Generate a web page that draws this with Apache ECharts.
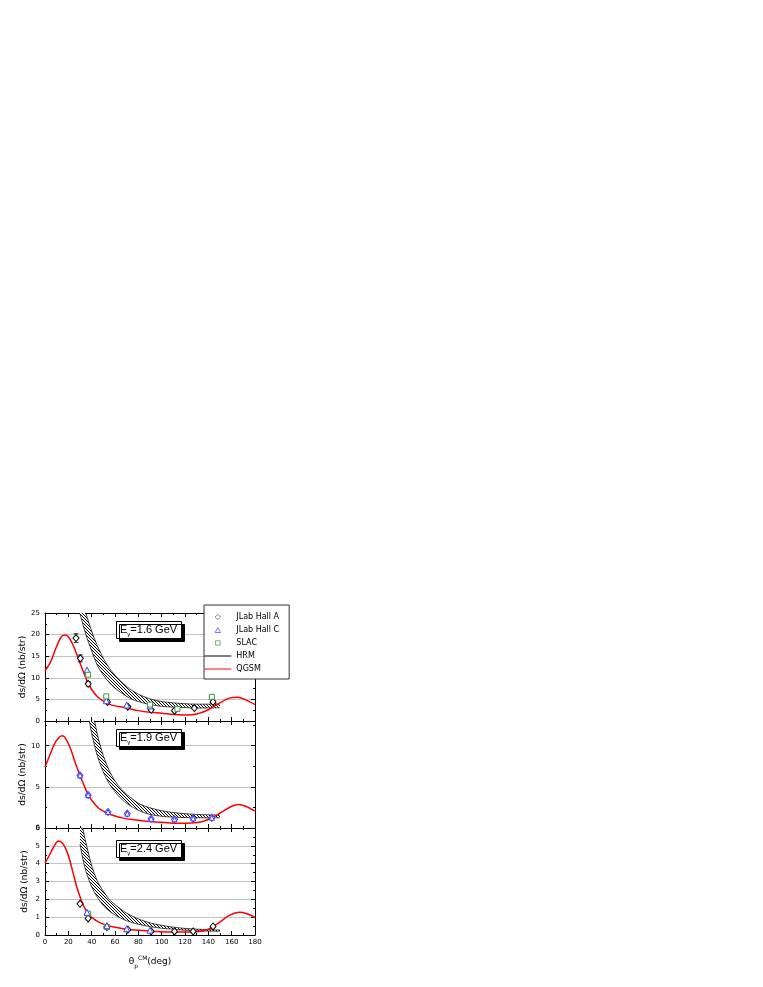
<!DOCTYPE html>
<html>
<head>
<meta charset="utf-8">
<script src="https://cdn.jsdelivr.net/npm/echarts@6/dist/echarts.min.js"></script>
<style>
html, body { margin: 0; padding: 0; background: #fff; }
#main { width: 763px; height: 987px; }
</style>
</head>
<body>
<div id="main"></div>
<script>
// ---------- data ----------
// QGSM curves
const qgsmX16 = [0, 5, 10, 14, 17, 20, 24, 28, 32, 36, 40, 45, 50, 55, 60, 70, 80, 90, 100, 110, 120, 130, 140, 150, 158, 165, 172, 180];
const qgsmY16 = [11.6, 13.8, 17.3, 19.5, 19.9, 19.5, 17.6, 14.9, 12.0, 9.3, 7.3, 5.6, 4.6, 3.9, 3.5, 3.0, 2.4, 2.0, 1.8, 1.5, 1.4, 1.6, 2.6, 4.2, 5.3, 5.5, 4.9, 3.8];
const qgsmX19 = [0, 4, 8, 12, 15, 18, 22, 26, 30, 34, 38, 42, 46, 50, 55, 60, 67, 75, 85, 95, 105, 115, 125, 135, 145, 152, 160, 166, 172, 180];
const qgsmY19 = [7.4, 8.8, 10.2, 11.0, 11.2, 10.8, 9.6, 7.9, 6.4, 5.0, 3.8, 3.0, 2.4, 2.05, 1.7, 1.45, 1.2, 1.02, 0.85, 0.73, 0.64, 0.57, 0.6, 0.8, 1.4, 2.0, 2.65, 2.87, 2.65, 2.05];
const qgsmX24 = [0, 4, 8, 11.4, 15, 18, 21, 24, 27, 30, 33, 37, 41, 46, 53, 60, 67, 80, 95, 110, 125, 135, 142, 150, 158, 167, 173, 180];
const qgsmY24 = [4.03, 4.5, 5.0, 5.27, 5.15, 4.8, 4.25, 3.5, 2.75, 2.15, 1.65, 1.2, 0.95, 0.72, 0.54, 0.43, 0.35, 0.26, 0.2, 0.17, 0.17, 0.23, 0.38, 0.73, 1.1, 1.27, 1.19, 0.99];

// HRM bands (lower / upper edge)
const hrmX16 = [30, 35, 40, 45, 50, 55, 60, 65, 70, 75, 80, 90, 100, 110, 120, 130, 140, 150];
const hrmLo16 = [24.8, 20.0, 16.2, 12.8, 10.6, 8.9, 7.6, 6.6, 5.7, 5.0, 4.5, 3.8, 3.4, 3.2, 3.1, 3.0, 3.0, 3.1];
const hrmHi16 = [30, 25, 20.8, 17.3, 14.5, 12.3, 10.6, 9.2, 8.0, 7.0, 6.2, 5.1, 4.5, 4.2, 4.0, 3.9, 3.9, 4.0];
const hrmX19 = [37, 40, 45, 50, 55, 60, 65, 70, 80, 90, 100, 110, 120, 130, 140, 150];
const hrmLo19 = [13.8, 11.5, 8.7, 6.8, 5.4, 4.4, 3.6, 3.0, 2.15, 1.65, 1.42, 1.32, 1.27, 1.25, 1.24, 1.25];
const hrmHi19 = [17.5, 15, 11.3, 8.8, 7.0, 5.7, 4.8, 4.1, 3.0, 2.45, 2.1, 1.88, 1.74, 1.65, 1.6, 1.57];
const hrmX24 = [30, 32, 35, 40, 45, 50, 55, 60, 65, 70, 80, 90, 100, 110, 120, 130, 140, 150];
const hrmLo24 = [5.1, 4.4, 3.6, 2.7, 2.1, 1.65, 1.35, 1.12, 0.95, 0.8, 0.6, 0.47, 0.38, 0.32, 0.27, 0.24, 0.22, 0.21];
const hrmHi24 = [7.0, 6.1, 5.2, 3.9, 3.0, 2.45, 2.0, 1.7, 1.45, 1.22, 0.9, 0.68, 0.54, 0.44, 0.37, 0.33, 0.3, 0.28];

// measurements
const hallAX16 = [26.6, 30.3, 37, 53.5, 71, 91, 111, 128, 144];
const hallAY16 = [19.2, 14.5, 8.6, 4.4, 3.3, 2.6, 2.4, 3.0, 4.4];
const hallAErr16 = [1.0, 0.8, 0.5, 0.3, 0.2, 0.2, 0.2, 0.2, 0.3];
const hallCX16 = [36, 52.5, 70, 90];
const hallCY16 = [11.8, 4.7, 3.7, 3.5];
const slacX16 = [37, 52.5, 90, 113.5, 143];
const slacY16 = [10.7, 5.7, 3.8, 2.8, 5.6];

const hallX19 = [30, 37, 54, 70.5, 91, 111, 127, 143];
const hallY19 = [6.4, 4.0, 1.95, 1.75, 1.12, 1.05, 1.17, 1.25];

const hallAX24 = [30, 37, 53, 71, 91, 111, 127, 144];
const hallAY24 = [1.75, 0.93, 0.45, 0.3, 0.2, 0.2, 0.2, 0.48];
const hallCX24 = [36, 53, 70, 90];
const hallCY24 = [1.27, 0.52, 0.35, 0.27];
const slacX24 = [37, 53];
const slacY24 = [1.2, 0.45];

// axes
const xTicks = [0, 180, 20];
const yRange16 = [0, 25, 5];
const yRange19 = [0, 13, 5];
const yRange24 = [0, 6, 1];
const energies = ['1.6', '1.9', '2.4'];

// ---------- chart ----------
const chart = echarts.init(document.getElementById('main'));

const BLUE = '#3c3cff';
const GREEN = '#3a9a3a';
const RED = '#ff0000';
const FONT = 'DejaVu Sans';

// legend icons: a 27x6 box (the two moveTo points fix the box), mark in the middle
const ICON_BOX = 'path://M0,0 M27,6 ';
const iconDiamond = ICON_BOX + 'M13.5,0.3 L16.2,3 L13.5,5.7 L10.8,3 Z';
const iconTriangle = ICON_BOX + 'M13.5,0.5 L16.2,5.5 L10.8,5.5 Z';
const iconSquare = ICON_BOX + 'M11.2,0.8 L15.8,0.8 L15.8,5.2 L11.2,5.2 Z';
const iconLine = ICON_BOX + 'M0,2.5 L27,2.5 L27,3.5 L0,3.5 Z';

// hatch pattern for the HRM band
const hatch = document.createElement('canvas');
hatch.width = 3;
hatch.height = 3;
(function () {
	const c = hatch.getContext('2d');
	c.fillStyle = '#fff';
	c.fillRect(0, 0, 3, 3);
	c.strokeStyle = '#000';
	c.lineWidth = 1;
	c.beginPath();
	c.moveTo(0, 0); c.lineTo(3, 3);
	c.moveTo(-1, 2); c.lineTo(1, 4);
	c.moveTo(2, -1); c.lineTo(4, 1);
	c.stroke();
})();

function zip(xs, ys) {
	return xs.map(function (x, i) { return [x, ys[i]]; });
}

const gridTops = [613, 721, 828];
const gridHeights = [108, 107, 107];
const yRanges = [yRange16, yRange19, yRange24];

function makeAxes() {
	let xAxis = [], yAxis = [];
	for (let i = 0; i < 3; i++) {
		let common = {
			gridIndex: i,
			type: 'value',
			min: xTicks[0],
			max: xTicks[1],
			interval: xTicks[2],
			axisLine: { onZero: false, lineStyle: { color: '#000', width: 1 } },
			axisTick: { inside: true, length: 4, lineStyle: { color: '#000' } },
			minorTick: { show: true, splitNumber: 2, length: 2, lineStyle: { color: '#000' } },
			splitLine: { show: false }
		};
		xAxis.push(Object.assign({}, common, {
			position: 'bottom',
			axisLabel: { show: i === 2, fontSize: 7, color: '#000', margin: 4, fontFamily: FONT },
			name: i === 2 ? '{t|θ}{sub|p}{sup|CM}{t|(deg)}' : '',
			nameLocation: 'middle',
			nameGap: 20,
			nameTextStyle: {
				color: '#000',
				rich: {
					t: { fontSize: 9, fontFamily: FONT, color: '#000', lineHeight: 14 },
					sub: { fontSize: 6, fontFamily: FONT, color: '#000', verticalAlign: 'bottom' },
					sup: { fontSize: 6, fontFamily: FONT, color: '#000', verticalAlign: 'top' }
				}
			}
		}));
		xAxis.push(Object.assign({}, common, {
			position: 'top',
			axisLabel: { show: false }
		}));

		let r = yRanges[i];
		let ycommon = {
			gridIndex: i,
			type: 'value',
			min: r[0],
			max: r[1],
			interval: r[2],
			axisLine: { show: true, onZero: false, lineStyle: { color: '#000', width: 1 } },
			axisTick: { inside: true, length: 4, lineStyle: { color: '#000' } },
			minorTick: { show: true, splitNumber: 2, length: 2, lineStyle: { color: '#000' } }
		};
		yAxis.push(Object.assign({}, ycommon, {
			position: 'left',
			axisLabel: { fontSize: 7, color: '#000', margin: 5, fontFamily: FONT, showMaxLabel: i !== 1 },
			splitLine: { show: true, lineStyle: { color: '#c4c4c4', width: 1 } },
			name: 'ds/dΩ (nb/str)',
			nameLocation: 'middle',
			nameGap: 16,
			nameTextStyle: { fontSize: 9, color: '#000', fontFamily: FONT }
		}));
		yAxis.push(Object.assign({}, ycommon, {
			position: 'right',
			axisLabel: { show: false },
			splitLine: { show: false }
		}));
	}
	return { xAxis: xAxis, yAxis: yAxis };
}

function bandSeries(gi, xs, lo, hi) {
	return {
		type: 'custom',
		name: 'HRM band',
		xAxisIndex: 2 * gi,
		yAxisIndex: 2 * gi,
		clip: true,
		silent: true,
		z: 1,
		data: xs.map(function (x, i) { return [x, lo[i], hi[i]]; }),
		renderItem: function (params, api) {
			if (params.dataIndex !== 0) return null;
			let pts = [];
			for (let i = 0; i < xs.length; i++) pts.push(api.coord([xs[i], hi[i]]));
			for (let i = xs.length - 1; i >= 0; i--) pts.push(api.coord([xs[i], lo[i]]));
			return {
				type: 'polygon',
				shape: { points: pts },
				style: { fill: { image: hatch, repeat: 'repeat' }, stroke: null }
			};
		}
	};
}

function lineSeries(gi, name, xs, ys, color, width) {
	return {
		type: 'line',
		name: name,
		xAxisIndex: 2 * gi,
		yAxisIndex: 2 * gi,
		data: zip(xs, ys),
		symbol: 'none',
		smooth: 0.3,
		clip: true,
		silent: true,
		z: 3,
		lineStyle: { color: color, width: width },
		itemStyle: { color: color }
	};
}

function scatterSeries(gi, name, xs, ys, symbol, size, color) {
	return {
		type: 'scatter',
		name: name,
		xAxisIndex: 2 * gi,
		yAxisIndex: 2 * gi,
		data: zip(xs, ys),
		symbol: symbol,
		symbolSize: size,
		silent: true,
		z: 5,
		itemStyle: { color: '#fff', borderColor: color, borderWidth: 1, opacity: 1 }
	};
}

function errorSeries(gi, xs, ys, errs, color) {
	return {
		type: 'custom',
		name: 'err',
		xAxisIndex: 2 * gi,
		yAxisIndex: 2 * gi,
		silent: true,
		z: 4,
		data: xs.map(function (x, i) { return [x, ys[i], errs[i]]; }),
		renderItem: function (params, api) {
			let x = api.value(0), y = api.value(1), e = api.value(2);
			let a = api.coord([x, y + e]);
			let b = api.coord([x, y - e]);
			let st = { stroke: color, lineWidth: 0.8 };
			return {
				type: 'group',
				children: [
					{ type: 'line', shape: { x1: a[0], y1: a[1], x2: b[0], y2: b[1] }, style: st },
					{ type: 'line', shape: { x1: a[0] - 2.5, y1: a[1], x2: a[0] + 2.5, y2: a[1] }, style: st },
					{ type: 'line', shape: { x1: b[0] - 2.5, y1: b[1], x2: b[0] + 2.5, y2: b[1] }, style: st }
				]
			};
		}
	};
}

function energyTitle(i, top) {
	return {
		text: '{e|E}{s|γ}{e|=' + energies[i] + ' GeV}',
		left: 116,
		top: top,
		padding: [3, 5, 2, 4],
		backgroundColor: '#fff',
		borderColor: '#000',
		borderWidth: 1,
		shadowColor: '#000',
		shadowBlur: 0,
		shadowOffsetX: 3,
		shadowOffsetY: 3,
		textStyle: {
			fontWeight: 'normal',
			rich: {
				e: { fontSize: 11, fontWeight: 'normal', fontFamily: 'Liberation Sans', color: '#000', lineHeight: 14 },
				s: { fontSize: 6, fontWeight: 'normal', fontFamily: 'Liberation Sans', color: '#000', verticalAlign: 'bottom' }
			}
		}
	};
}

function draw() {
	let axes = makeAxes();
	let option = {
		animation: false,
		backgroundColor: '#fff',
		title: [energyTitle(0, 620), energyTitle(1, 728), energyTitle(2, 839)],
		legend: {
			orient: 'vertical',
			left: 204,
			top: 605,
			itemWidth: 27,
			itemHeight: 6,
			itemGap: 5,
			padding: [8, 10, 6, 0],
			backgroundColor: '#fff',
			borderColor: '#333',
			borderWidth: 1,
			selectedMode: false,
			z: 20,
			itemStyle: { borderWidth: 0.7 },
			textStyle: { fontSize: 8, color: '#000', fontFamily: FONT },
			data: [
				{ name: 'JLab Hall A', icon: iconDiamond, itemStyle: { borderColor: '#555' } },
				{ name: 'JLab Hall C', icon: iconTriangle },
				{ name: 'SLAC', icon: iconSquare },
				{ name: 'HRM', icon: iconLine },
				{ name: 'QGSM', icon: iconLine }
			]
		},
		grid: gridTops.map(function (t, i) {
			return { left: 45, top: t, width: 210, height: gridHeights[i] };
		}),
		xAxis: axes.xAxis,
		yAxis: axes.yAxis,
		series: [
			// 1.6 GeV
			bandSeries(0, hrmX16, hrmLo16, hrmHi16),
			lineSeries(0, 'HRM', hrmX16, hrmLo16, '#000', 0.7),
			lineSeries(0, 'HRM', hrmX16, hrmHi16, '#000', 0.7),
			lineSeries(0, 'QGSM', qgsmX16, qgsmY16, RED, 1.5),
			errorSeries(0, hallAX16, hallAY16, hallAErr16, '#000'),
			scatterSeries(0, 'JLab Hall A', hallAX16, hallAY16, 'diamond', [6, 7], '#000'),
			scatterSeries(0, 'JLab Hall C', hallCX16, hallCY16, 'triangle', 6, BLUE),
			scatterSeries(0, 'SLAC', slacX16, slacY16, 'rect', 5, GREEN),
			// 1.9 GeV
			bandSeries(1, hrmX19, hrmLo19, hrmHi19),
			lineSeries(1, 'HRM', hrmX19, hrmLo19, '#000', 0.7),
			lineSeries(1, 'HRM', hrmX19, hrmHi19, '#000', 0.7),
			lineSeries(1, 'QGSM', qgsmX19, qgsmY19, RED, 1.5),
			scatterSeries(1, 'JLab Hall A', hallX19, hallY19, 'diamond', [6, 7], BLUE),
			scatterSeries(1, 'JLab Hall C', hallX19, hallY19, 'triangle', 5, BLUE),
			// 2.4 GeV
			bandSeries(2, hrmX24, hrmLo24, hrmHi24),
			lineSeries(2, 'HRM', hrmX24, hrmLo24, '#000', 0.7),
			lineSeries(2, 'HRM', hrmX24, hrmHi24, '#000', 0.7),
			lineSeries(2, 'QGSM', qgsmX24, qgsmY24, RED, 1.5),
			scatterSeries(2, 'JLab Hall A', hallAX24, hallAY24, 'diamond', [6, 7], '#000'),
			scatterSeries(2, 'SLAC', slacX24, slacY24, 'rect', 5, GREEN),
			scatterSeries(2, 'JLab Hall C', hallCX24, hallCY24, 'triangle', 6, BLUE)
		]
	};
	chart.setOption(option);
}

draw();
</script>
</body>
</html>
